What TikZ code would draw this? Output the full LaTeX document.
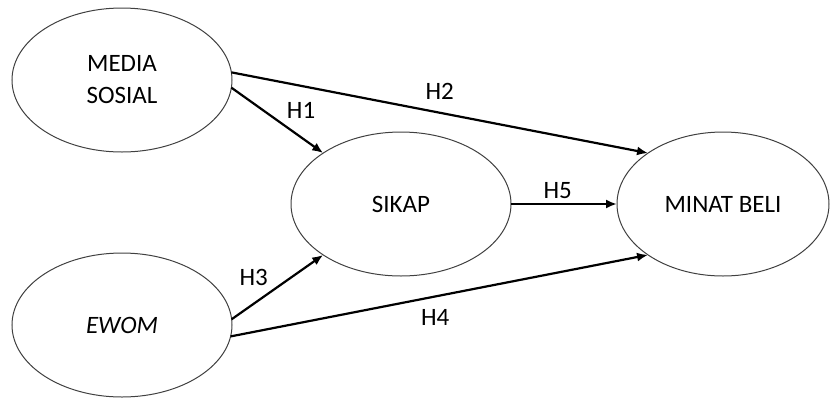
\documentclass[tikz,border=0pt]{standalone}
\usepackage{fontspec}
\setmainfont{Carlito}
\usepackage{xcolor}
\usepackage{tikz}
\usetikzlibrary{positioning, arrows.meta, shapes.geometric}

\begin{document}
\begin{tikzpicture}[
    node distance=62pt and 139.5pt,
    on grid,
    var/.style={
        draw=black!75,
        line width=0.5pt,
        ellipse,
        align=center,
        outer sep=0pt,
        font=\fontsize{12.5}{16}\selectfont,
        minimum width=110pt,
        minimum height=72pt
    },
    arrow/.style={-{Latex[length=5.5pt,width=4.5pt]}, line width=1.1pt},
    hyp/.style={font=\fontsize{12.5}{14}\selectfont, inner sep=2pt}
]
\useasboundingbox (-61pt,40pt) rectangle (354pt,-158.5pt);

%  Exogenous variables 
\node[var] (media) at (0,0) {MEDIA\\SOSIAL};
\node[var] (ewom) [below=122.5pt of media] {\textit{EWOM}};

%  Mediator and outcome 
\node[var] (sikap) [below right=62pt and 139.5pt of media] {SIKAP};
\node[var, minimum width=106pt] (minat) [right=161pt of sikap] {MINAT BELI};

%  Hypotheses 
\draw[arrow] (media.-4) -- node[hyp, above right, pos=0.55]{H1} (sikap.north west);
\draw[arrow] (media.4) -- node[hyp, above=4pt, pos=0.5]{H2} (minat.north west);
\draw[arrow] (ewom.3) -- node[hyp, above left, pos=0.45]{H3} (sikap.south west);
\draw[arrow] (ewom.-6) -- node[hyp, below=4pt, pos=0.49]{H4} (minat.south west);
\draw[arrow] (sikap.east) -- node[hyp, above, pos=0.44]{H5} (minat.west);

\end{tikzpicture}
\end{document}
